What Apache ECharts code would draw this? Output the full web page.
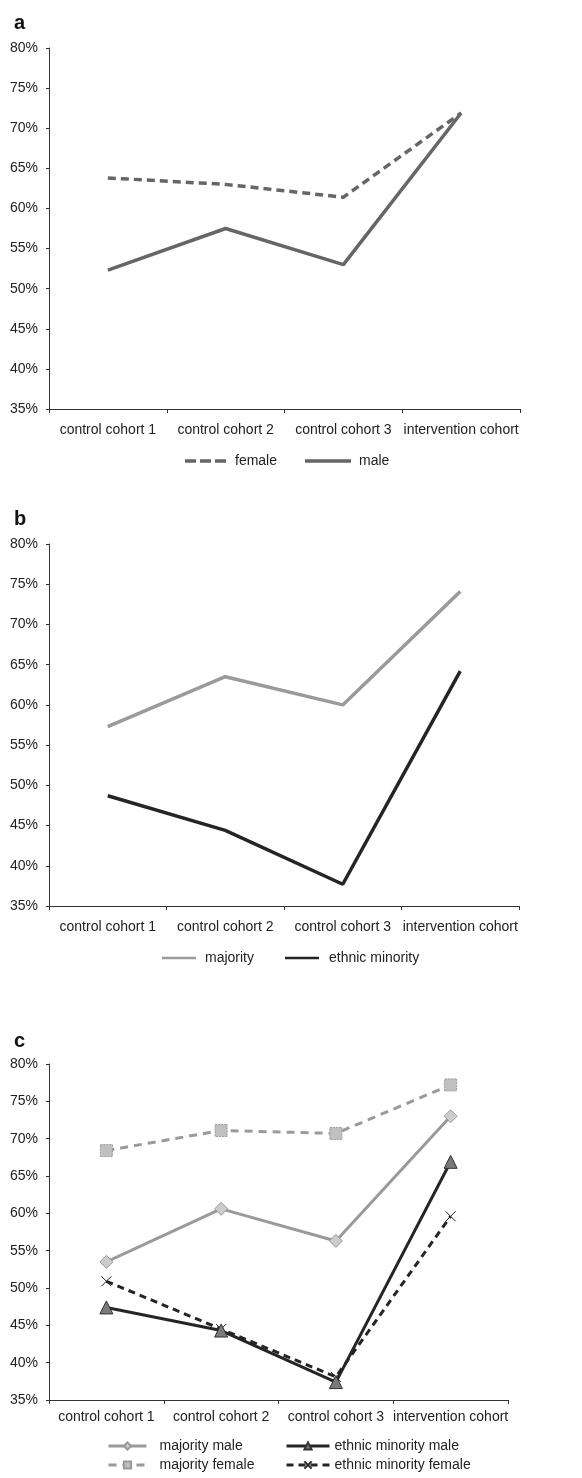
<!DOCTYPE html>
<html>
<head>
<meta charset="utf-8">
<script src="https://cdn.jsdelivr.net/npm/echarts@6/dist/echarts.min.js"></script>
<style>
  html, body { margin: 0; padding: 0; background: #fff; }
  #chart { width: 582px; height: 1478px; }
</style>
</head>
<body>
<div id="chart"></div>
<script>
// Cohort categories shared by all three panels
const cohorts = ['control cohort 1', 'control cohort 2', 'control cohort 3', 'intervention cohort'];

// Panel a: by gender (%)
const female = [63.8, 63.0, 61.4, 71.9];
const male = [52.3, 57.5, 53.0, 71.9];

// Panel b: by ethnicity (%)
const majority = [57.3, 63.5, 60.0, 74.1];
const ethnicMinority = [48.7, 44.4, 37.7, 64.2];

// Panel c: by ethnicity and gender (%)
const majorityMale = [53.5, 60.6, 56.3, 73.0];
const majorityFemale = [68.4, 71.1, 70.7, 77.2];
const minorityMale = [47.4, 44.3, 37.4, 66.9];
const minorityFemale = [50.9, 44.5, 38.1, 59.6];

const yMin = 35, yMax = 80, yStep = 5;

const FONT = '"Liberation Sans", Arial, sans-serif';
const TEXT = '#222';
const LABEL_SIZE = 14;

const grids = [
  { left: 49, right: 62, top: 48, height: 361 },
  { left: 49, right: 63, top: 544, height: 362 },
  { left: 49, right: 74, top: 1064, height: 336 }
];
const xLabelMargin = [14, 14, 10];

function xAxis(i) {
  return {
    type: 'category', gridIndex: i, data: cohorts, boundaryGap: true,
    axisLine: { lineStyle: { color: '#333', width: 1 } },
    axisTick: { show: true, length: 4, lineStyle: { color: '#333' } },
    axisLabel: { color: TEXT, fontFamily: FONT, fontSize: LABEL_SIZE, margin: xLabelMargin[i], interval: 0 }
  };
}
function yAxis(i) {
  return {
    type: 'value', gridIndex: i, min: yMin, max: yMax, interval: yStep,
    axisLine: { show: true, lineStyle: { color: '#333', width: 1 } },
    axisTick: { show: true, length: 3, lineStyle: { color: '#333' } },
    splitLine: { show: false },
    axisLabel: { color: TEXT, fontFamily: FONT, fontSize: LABEL_SIZE, margin: 11, formatter: '{value}%' }
  };
}

// legend swatches for the plain line panels
const dashedIcon = 'path://M0,0h11v3.5h-11z M15,0h11v3.5h-11z M30,0h11v3.5h-11z';
const solidIcon = 'path://M0,0h45v3.5h-45z';
// thin cross marker
const xPath = 'path://M0,0L10,10M10,0L0,10';

const legendText = { color: TEXT, fontFamily: FONT, fontSize: LABEL_SIZE };

function lineLegend(name, icon, left, top, width, textGap) {
  return {
    data: [{ name: name, icon: icon }], left: left, top: top, padding: 0,
    itemWidth: width, itemHeight: 4,
    textStyle: Object.assign({ padding: [0, 0, 0, textGap] }, legendText)
  };
}

const option = {
  animation: false,
  backgroundColor: '#fff',
  title: [
    { text: 'a', left: 9, top: 8, textStyle: { fontFamily: FONT, fontSize: 20, fontWeight: 'bold', color: '#111' } },
    { text: 'b', left: 9, top: 504, textStyle: { fontFamily: FONT, fontSize: 20, fontWeight: 'bold', color: '#111' } },
    { text: 'c', left: 9, top: 1026, textStyle: { fontFamily: FONT, fontSize: 20, fontWeight: 'bold', color: '#111' } }
  ],
  grid: grids,
  xAxis: [xAxis(0), xAxis(1), xAxis(2)],
  yAxis: [yAxis(0), yAxis(1), yAxis(2)],
  legend: [
    lineLegend('female', dashedIcon, 185, 454, 41, 4),
    lineLegend('male', solidIcon, 305, 454, 46, 3),
    lineLegend('majority', solidIcon, 162, 951, 34, 4),
    lineLegend('ethnic minority', solidIcon, 285, 951, 34, 5),
    {
      data: ['majority male', 'majority female'], orient: 'vertical', left: 107, top: 1439, height: 40,
      itemWidth: 38, itemHeight: 9, itemGap: 5, padding: 0,
      lineStyle: { width: 3 },
      textStyle: Object.assign({ padding: [0, 0, 0, 8] }, legendText)
    },
    {
      data: ['ethnic minority male', 'ethnic minority female'], orient: 'vertical', left: 285, top: 1439, height: 40,
      itemWidth: 43, itemHeight: 9, itemGap: 5, padding: 0,
      lineStyle: { width: 3 },
      textStyle: Object.assign({ padding: [0, 0, 0, 0] }, legendText)
    }
  ],
  series: [
    // panel a
    {
      name: 'female', type: 'line', xAxisIndex: 0, yAxisIndex: 0, data: female, symbol: 'none',
      lineStyle: { color: '#666', width: 3.5, type: [8, 5] }, itemStyle: { color: '#666' }
    },
    {
      name: 'male', type: 'line', xAxisIndex: 0, yAxisIndex: 0, data: male, symbol: 'none',
      lineStyle: { color: '#666', width: 3.5 }, itemStyle: { color: '#666' }
    },
    // panel b
    {
      name: 'majority', type: 'line', xAxisIndex: 1, yAxisIndex: 1, data: majority, symbol: 'none',
      lineStyle: { color: '#9a9a9a', width: 3.5 }, itemStyle: { color: '#9a9a9a' }
    },
    {
      name: 'ethnic minority', type: 'line', xAxisIndex: 1, yAxisIndex: 1, data: ethnicMinority, symbol: 'none',
      lineStyle: { color: '#252525', width: 3.5 }, itemStyle: { color: '#252525' }
    },
    // panel c
    {
      name: 'majority female', type: 'line', xAxisIndex: 2, yAxisIndex: 2, data: majorityFemale,
      symbol: 'rect', symbolSize: 12, z: 3,
      lineStyle: { color: '#9a9a9a', width: 3, type: [8, 6] },
      itemStyle: { color: '#c0c0c0', borderColor: '#999', borderWidth: 1, borderType: [2, 1] }
    },
    {
      name: 'majority male', type: 'line', xAxisIndex: 2, yAxisIndex: 2, data: majorityMale,
      symbol: 'diamond', symbolSize: [13, 13], z: 3,
      lineStyle: { color: '#9a9a9a', width: 3 },
      itemStyle: { color: '#cccccc', borderColor: '#999', borderWidth: 1 }
    },
    {
      name: 'ethnic minority female', type: 'line', xAxisIndex: 2, yAxisIndex: 2, data: minorityFemale,
      symbol: xPath, symbolSize: 10, z: 4,
      lineStyle: { color: '#252525', width: 3, type: [7, 5] },
      itemStyle: { color: 'none', borderColor: '#222', borderWidth: 1 }
    },
    {
      name: 'ethnic minority male', type: 'line', xAxisIndex: 2, yAxisIndex: 2, data: minorityMale,
      symbol: 'triangle', symbolSize: [13, 13], z: 5,
      lineStyle: { color: '#252525', width: 3 },
      itemStyle: { color: '#7a7a7a', borderColor: '#333', borderWidth: 1 }
    }
  ]
};

const chart = echarts.init(document.getElementById('chart'), null, { renderer: 'canvas' });
chart.setOption(option);
</script>
</body>
</html>
